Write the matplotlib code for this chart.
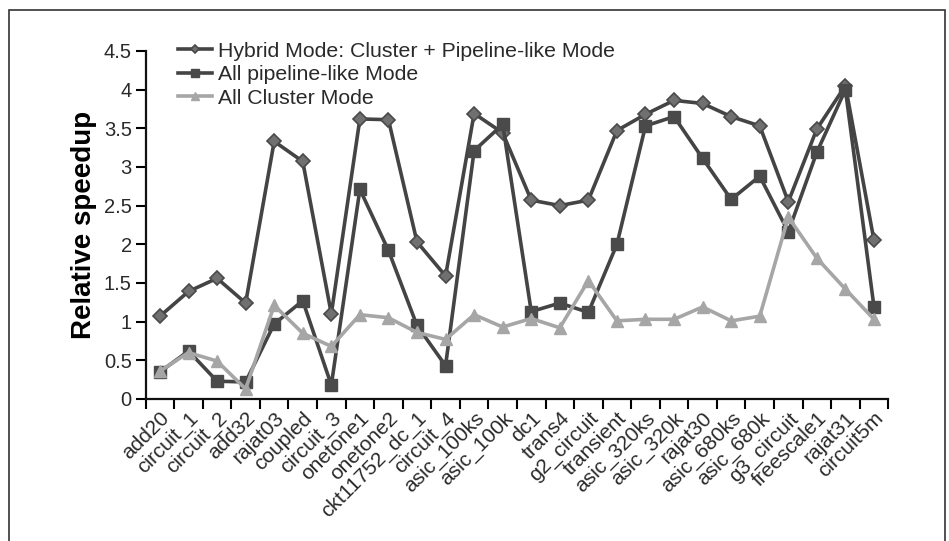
import matplotlib
matplotlib.use("Agg")
import matplotlib.pyplot as plt
from matplotlib.patches import Rectangle
import numpy as np

plt.rcParams['font.family'] = ['Liberation Sans', 'DejaVu Sans']

categories = ["add20", "circuit_1", "circuit_2", "add32", "rajat03", "coupled",
              "circuit_3", "onetone1", "onetone2", "ckt11752_dc_1", "circuit_4",
              "asic_100ks", "asic_100k", "dc1", "trans4", "g2_circuit", "transient",
              "asic_320ks", "asic_320k", "rajat30", "asic_680ks", "asic_680k",
              "g3_circuit", "freescale1", "rajat31", "circuit5m"]

hybrid = [1.07, 1.39, 1.56, 1.24, 3.33, 3.07, 1.10, 3.62, 3.61, 2.03, 1.59,
          3.69, 3.44, 2.57, 2.50, 2.57, 3.47, 3.68, 3.86, 3.82, 3.65, 3.53,
          2.55, 3.49, 4.05, 2.05]
pipeline = [0.35, 0.62, 0.23, 0.22, 0.97, 1.27, 0.18, 2.71, 1.92, 0.95, 0.43,
            3.21, 3.55, 1.13, 1.24, 1.12, 2.00, 3.53, 3.65, 3.11, 2.58, 2.88,
            2.16, 3.19, 4.00, 1.19]
cluster = [0.36, 0.60, 0.49, 0.13, 1.21, 0.85, 0.68, 1.09, 1.05, 0.86, 0.77,
           1.09, 0.93, 1.04, 0.92, 1.53, 1.01, 1.03, 1.03, 1.19, 1.01, 1.07,
           2.35, 1.82, 1.42, 1.03]

series_labels = ["Hybrid Mode: Cluster + Pipeline-like Mode",
                 "All pipeline-like Mode", "All Cluster Mode"]
yticks = [0, 0.5, 1, 1.5, 2, 2.5, 3, 3.5, 4, 4.5]
ytick_labels = ["0", "0.5", "1", "1.5", "2", "2.5", "3", "3.5", "4", "4.5"]

fig = plt.figure(figsize=(9.49, 5.41), dpi=100)
ax = fig.add_axes([0.1535, 0.2625, 0.7825, 0.6435])

x = np.arange(len(categories))
dark = '#444444'
light = '#a6a6a6'
ax.plot(x, hybrid, color=dark, lw=2.6, marker='D', ms=7,
        markerfacecolor='#707070', markeredgecolor='#4a4a4a', markeredgewidth=1.2,
        label=series_labels[0], zorder=3)
ax.plot(x, pipeline, color=dark, lw=2.6, marker='s', ms=9,
        markerfacecolor='#4a4a4a', markeredgecolor='#4a4a4a',
        label=series_labels[1], zorder=3)
ax.plot(x, cluster, color=light, lw=2.6, marker='^', ms=9,
        markerfacecolor=light, markeredgecolor=light,
        label=series_labels[2], zorder=4)

ax.set_xlim(-0.5, len(categories) - 0.5)
ax.set_ylim(0, 4.5)
ax.set_yticks(yticks)
ax.set_yticklabels(ytick_labels, fontsize=14.5, color='#2a2a2a')
ax.set_xticks(x)
ax.set_xticklabels(categories, rotation=45, ha='right', rotation_mode='anchor',
                   fontsize=15, color='#2a2a2a')
ax.tick_params(axis='x', length=0, pad=7)
ax.set_xticks(np.arange(-0.5, len(categories)), minor=True)
ax.tick_params(axis='x', which='minor', length=7, width=1.5, direction='out')
ax.tick_params(axis='y', length=7, width=1.5, direction='out', pad=3)

for s in ['top', 'right']:
    ax.spines[s].set_visible(False)
for s in ['left', 'bottom']:
    ax.spines[s].set_linewidth(1.6)
    ax.spines[s].set_color('#111111')

ax.set_ylabel("Relative speedup", fontsize=20, fontweight='bold', labelpad=5)

leg = ax.legend(loc='upper left', bbox_to_anchor=(0.043, 1.026), frameon=False,
                fontsize=15.3, handlelength=1.6, handletextpad=0.3,
                labelspacing=0.21, borderaxespad=0, borderpad=0, markerscale=0.6)
for t in leg.get_texts():
    t.set_color('#2a2a2a')

fig.patches.append(Rectangle((9 / 949, -0.01), (945 - 9) / 949, 1 - 10 / 541 + 0.01,
                             transform=fig.transFigure, fill=False,
                             edgecolor='#333333', lw=1.2))

fig.savefig("out.png", dpi=100)
